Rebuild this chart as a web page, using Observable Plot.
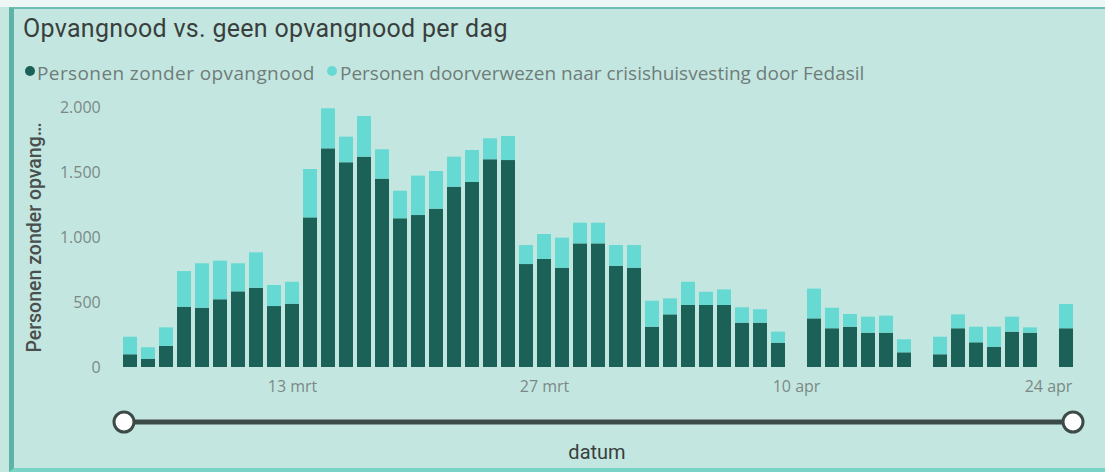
<!DOCTYPE html>
<html><head><meta charset="utf-8">
<script src="https://cdn.jsdelivr.net/npm/d3@7"></script>
<script src="https://cdn.jsdelivr.net/npm/@observablehq/plot@0.6"></script>
<style>
html,body{margin:0;padding:0;}
body{width:1105px;height:472px;position:relative;overflow:hidden;background:#c4e7e0;}
#topstrip{position:absolute;left:0;top:0;width:1105px;height:7px;background:#eef7f5;}
#panel{position:absolute;left:9px;top:7px;width:1096px;height:465px;box-sizing:border-box;border-top:2px solid #6cc0b3;border-left:5px solid #5db3a6;border-bottom:4px solid #7ad3c7;background:#c3e7e0;}
#title{position:absolute;left:23px;top:14px;font-family:Roboto;font-size:25px;letter-spacing:0.3px;color:#3a3f3e;white-space:nowrap;line-height:normal;}
.lg{position:absolute;top:60px;font-family:"Open Sans";font-size:19px;color:#6f7c79;white-space:nowrap;line-height:normal;}
.dot{position:absolute;top:66px;width:10px;height:10px;border-radius:50%;}
#chart{position:absolute;left:0;top:90px;}
#slider{position:absolute;left:0;top:0;}
#xlabel{position:absolute;left:0;width:1194px;text-align:center;top:440px;font-family:Roboto;font-size:20px;color:#3a3f3e;line-height:normal;}
g[aria-label="y-axis label"] text{fill:#4a4f4e;font-family:Roboto;font-weight:500;font-size:19.5px;}
</style>
</head><body>
<div id="topstrip"></div>
<div id="panel"></div>
<div id="title">Opvangnood vs. geen opvangnood per dag</div>
<div class="dot" style="left:25px;background:#1b6157"></div>
<div class="lg" style="left:37px;letter-spacing:0.4px">Personen zonder opvangnood</div>
<div class="dot" style="left:327px;background:#66d9d2"></div>
<div class="lg" style="left:340px">Personen doorverwezen naar crisishuisvesting door Fedasil</div>
<div id="chart"></div>
<svg id="slider" width="1105" height="472">
  <line x1="124" x2="1073" y1="422" y2="422" stroke="#3d4b48" stroke-width="5"/>
  <circle cx="124" cy="422" r="10" fill="#fff" stroke="#3d4b48" stroke-width="3"/>
  <circle cx="1073" cy="422" r="10" fill="#fff" stroke="#3d4b48" stroke-width="3"/>
</svg>
<div id="xlabel">datum</div>
<script>
// Data (2022), days with a bar
const datum = ["2022-03-04","2022-03-05","2022-03-06","2022-03-07","2022-03-08","2022-03-09","2022-03-10","2022-03-11","2022-03-12","2022-03-13",
"2022-03-14","2022-03-15","2022-03-16","2022-03-17","2022-03-18","2022-03-19","2022-03-20","2022-03-21","2022-03-22","2022-03-23",
"2022-03-24","2022-03-25","2022-03-26","2022-03-27","2022-03-28","2022-03-29","2022-03-30","2022-03-31","2022-04-01","2022-04-02",
"2022-04-03","2022-04-04","2022-04-05","2022-04-06","2022-04-07","2022-04-08","2022-04-09","2022-04-11","2022-04-12","2022-04-13",
"2022-04-14","2022-04-15","2022-04-16","2022-04-18","2022-04-19","2022-04-20","2022-04-21","2022-04-22","2022-04-23","2022-04-25"];
const zonderOpvangnood = [98,64,162,464,456,521,582,610,469,487,
1151,1682,1575,1618,1449,1144,1169,1218,1387,1423,
1598,1592,792,831,764,951,951,779,764,310,
405,477,477,477,341,341,187,374,298,310,
264,264,113,98,298,190,156,272,264,298];
const doorverwezen = [135,88,143,274,342,297,216,272,162,169,
372,308,197,313,226,212,303,290,231,246,
161,185,146,192,231,159,159,159,174,200,
123,179,102,120,118,103,85,229,158,98,
123,131,100,135,107,120,154,115,41,187];
const series = ["Personen zonder opvangnood","Personen doorverwezen naar crisishuisvesting door Fedasil"];
const colors = ["#1b6157","#66d9d2"];
const xTicks = ["2022-03-13","2022-03-27","2022-04-10","2022-04-24"];
const xTickLabels = ["13 mrt","27 mrt","10 apr","24 apr"];
const yTicks = [0,500,1000,1500,2000];

const rows = [];
datum.forEach((d,i)=>{
  rows.push({datum:d, serie:series[0], value:zonderOpvangnood[i]});
  rows.push({datum:d, serie:series[1], value:doorverwezen[i]});
});
const allDays = d3.utcDay.range(new Date("2022-03-04"), new Date("2022-04-26")).map(d=>d3.utcFormat("%Y-%m-%d")(d));
const nl = d3.formatLocale({decimal:",", thousands:".", grouping:[3], currency:["€",""]});
const fmt = nl.format(",d");

const chart = Plot.plot({
  width:1105, height:307,
  marginLeft:114.2, marginRight:24.2, marginTop:17, marginBottom:30,
  style:{fontFamily:"Open Sans", fontSize:"16px", background:"transparent", overflow:"visible"},
  x:{type:"band", domain:allDays, paddingInner:0.23, paddingOuter:0.115},
  y:{domain:[0,2000]},
  color:{domain:series, range:colors},
  marks:[
    Plot.barY(rows, Plot.stackY({x:"datum", y:"value", fill:"serie"})),
    Plot.axisX({ticks:xTicks, tickFormat:d=>xTickLabels[xTicks.indexOf(d)], tickSize:0, tickPadding:13, fill:"#7b8986", label:null}),
    Plot.axisY({ticks:yTicks, tickFormat:fmt, tickSize:0, tickPadding:14, fill:"#7b8986", label:"Personen zonder opvang…", labelAnchor:"center", labelOffset:88, labelArrow:"none"})
  ]
});
document.getElementById("chart").appendChild(chart);
</script>
</body></html>
